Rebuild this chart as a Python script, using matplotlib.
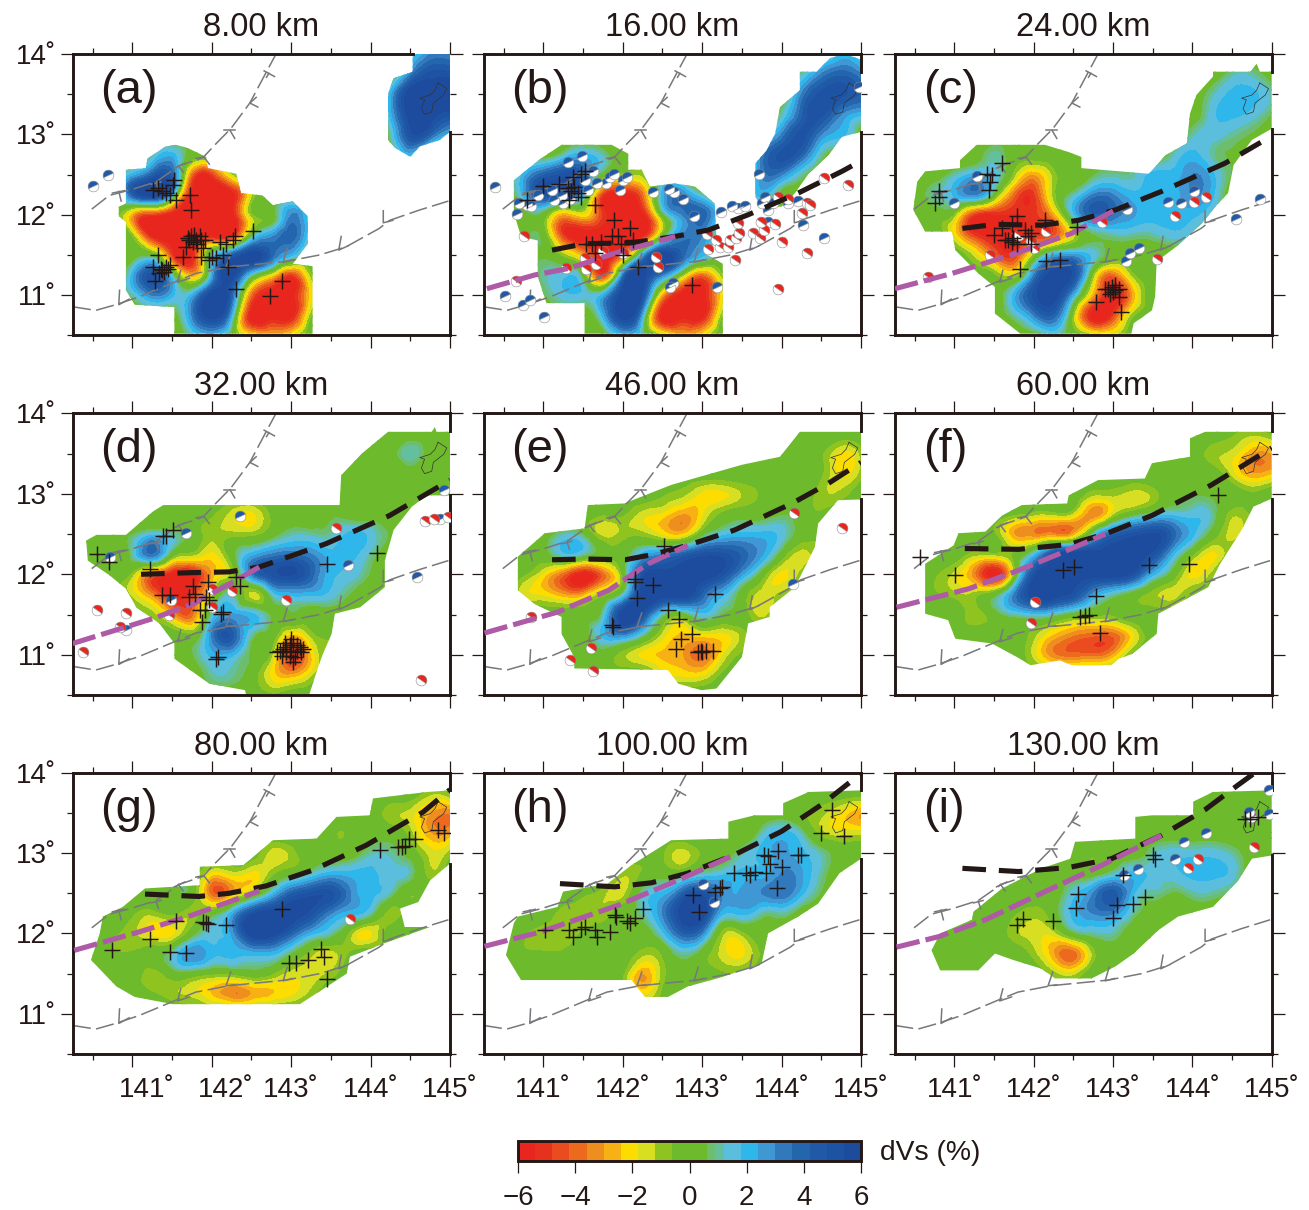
"""Nine-depth dVs tomography maps (8-130 km) with seismicity and slab contours."""
import matplotlib
matplotlib.use("Agg")
import matplotlib.pyplot as plt
import matplotlib.tri as mtri
import numpy as np
from matplotlib.cm import ScalarMappable
from matplotlib.colors import BoundaryNorm, ListedColormap
from matplotlib.markers import MarkerStyle
from matplotlib.patches import PathPatch
from matplotlib.path import Path
from matplotlib.transforms import Affine2D

plt.rcParams["font.family"] = ["Liberation Sans", "DejaVu Sans"]

W, H = 1309, 1210
INK = "#231815"

# --- colour scale ---------------------------------------------------------
LEVELS = [-6, -5.4, -4.8, -4.2, -3.6, -3, -2.4, -1.8, -1.2, -0.6, 0,
          0.6, 0.9, 1.2, 1.8, 2.4, 3, 3.6, 4.2, 4.8, 5.4, 6]
BAND_COLORS = ["#E8261E", "#E7311F", "#EA4C1F", "#ED691D", "#EE8E1E", "#F8B115",
               "#FDDD00", "#D8DE22", "#8FC31F", "#6DBA2C", "#6DBA2C", "#6CBD6E",
               "#64BF9E", "#5ABEDC", "#2FB6EA", "#3F97D3", "#3278BD", "#2466AE",
               "#2059A7", "#1E52A3", "#1D4C9E"]
CBAR_TICKS = [-6, -4, -2, 0, 2, 4, 6]

TITLES = ["8.00 km", "16.00 km", "24.00 km", "32.00 km", "46.00 km",
          "60.00 km", "80.00 km", "100.00 km", "130.00 km"]
TAGS = ["(a)", "(b)", "(c)", "(d)", "(e)", "(f)", "(g)", "(h)", "(i)"]
X_MAJOR = [141, 142, 143, 144, 145]
Y_MAJOR = [11, 12, 13, 14]
X_LABELS = ["141˚", "142˚", "143˚", "144˚", "145˚"]
Y_LABELS = ["11˚", "12˚", "13˚", "14˚"]
X_LABEL_POS_G = [141.18, 142.18, 143, 144, 145]

# dVs on a 0.25 degree node grid: rows 14.0 -> 10.5 N, columns 140.25 -> 145 E
FIELD_A = [
    [0,0,0,0,0,0,0,0,0,0,0,0,0,0,0,0,0,1,3,3],
    [0,0,0,0,0,0,0,0,0,0,0,0,0,0,0,0,0,3,5,5],
    [0,0,0,0,0,0,0,0,0,0,0,0,0,0,0,0,2,6,6,6],
    [0,0,0,0,0,0,0,0,0,0,0,0,0,0,0,0,2,6,6,5],
    [0,0,0,0,0,0,0,0,0,0,0,0,0,0,0,0,1,5,4,2],
    [0,0,0,0,1,2,0,0,0,0,0,0,0,0,0,0,0,2,0,0],
    [0,0,0,2,4,4,-4,-5,-1.5,0,0,0,0,0,0,0,0,0,0,0],
    [0,0,0,4,6,2,-6,-6,-6,-1.5,0,0,0,0,0,0,0,0,0,0],
    [0,0,0,-3,-5,-6,-6,-6,-6,-1,0,3,1,0,0,0,0,0,0,0],
    [0,0,0,-1,-6,-6,-6,-6,-6,0,2.5,4,1,0,0,0,0,0,0,0],
    [0,0,0,0,0,-5,-6,1,4,6,4,2,0,0,0,0,0,0,0,0],
    [0,0,0,2,5,1,-3,2,6,1,-2,-5,-1,0,0,0,0,0,0,0],
    [0,0,0,1,3,2,2,6,4,-4,-6,-6,-2,0,0,0,0,0,0,0],
    [0,0,0,0,0,0,3,6,2,-6,-6,-6,-1,0,0,0,0,0,0,0],
    [0,0,0,0,0,0,1,2,0,-2,-3,-2,0,0,0,0,0,0,0,0],
]
FIELD_B = [
    [0,0,0,0,0,0,0,0,0,0,0,0,0,0,0,0,0,0,2,1],
    [0,0,0,0,0,0,0,0,0,0,0,0,0,0,0,0,1,3,4,3],
    [0,0,0,0,0,0,0,0,0,0,0,0,0,0,0,0,3,5,5,4],
    [0,0,0,0,0,0,0,0,0,0,0,0,0,0,0,1,4,5,3,2],
    [0,0,0,0,0,0,0,0,0,0,0,0,0,0,1,3,5,3,2,0],
    [0,0,0,0,1,2,1,0,0,0,0,0,0,0,3,5,4,1,0,0],
    [0,0,2,4,5,4,0,-1,-1,1,0,0,0,0,3,3,1,0,0,0],
    [0,0,2,5,4,2,-5,-6,-4,2,3,1,0,0,2,0,0,0,0,0],
    [0,0,0,0,-3,-2,-5,-6,-6,0,3,4,1,0,0,0,0,0,0,0],
    [0,0,0,0,-5,-6,-6,-6,-6,-.5,3,3,0,0,0,0,0,0,0,0],
    [0,0,0,.5,-1,-3,-6,-4,2,6,4,2,0,0,0,0,0,0,0,0],
    [0,0,0,1,1.5,0,-5,3,6,3,-1,-4,-1,0,0,0,0,0,0,0],
    [0,0,0,.5,1.5,1.5,2,6,5,-3,-6,-6,-2,0,0,0,0,0,0,0],
    [0,0,0,0,0,0,2,6,2,-6,-6,-6,-1,0,0,0,0,0,0,0],
    [0,0,0,0,0,0,0,2,1,-1,-3,-2,0,0,0,0,0,0,0,0],
]
FIELD_C = [
    [0,0,0,0,0,0,0,0,0,0,0,0,0,0,0,0,0,0,0,0],
    [0,0,0,0,0,0,0,0,0,0,0,0,0,0,0,0,0,1,1,0],
    [0,0,0,0,0,0,0,0,0,0,0,0,0,0,0,0,1,2,2,1],
    [0,0,0,0,0,0,0,0,0,0,0,0,0,0,0,0,1.5,2,1.5,.5],
    [0,0,0,0,0,0,0,0,0,0,0,0,0,0,0,1,1.5,1,.5,0],
    [0,0,0,0,0,1,0,0,0,0,0,0,0,0,1,2,1,.5,0,0],
    [0,0,0,1,2,1.5,-1,-3,-1,0,.5,1,1,2,2,3,2,.5,0,0],
    [0,0,1,2,3,0,-4,-5,-1,1,3,3,2,2,2,3,2,0,0,0],
    [0,0,0,-1,-5,-5.5,-5.5,-5,-3,1.5,4,3.5,2.5,2,2,2,1,0,0,0],
    [0,0,0,-2,-5,-6,-6,-5,-4.5,-1.5,.5,1,1,1,1.5,1,0,0,0,0],
    [0,0,0,0,-1.5,-4,-5,-1,2,2.5,1.5,0,0,0,0,0,0,0,0,0],
    [0,0,0,0,0,-.5,-1.5,3,6,5,-1,-4,-1,0,0,0,0,0,0,0],
    [0,0,0,0,0,0,2,5,6,2,-3,-6,-3,0,0,0,0,0,0,0],
    [0,0,0,0,0,0,1,3,4,-1,-6,-5,-1,0,0,0,0,0,0,0],
    [0,0,0,0,0,0,0,0,1,0,-1,-1.5,0,0,0,0,0,0,0,0],
]
FIELD_D = [
    [0,0,0,0,0,0,0,0,0,0,0,0,0,0,0,0,0,0,0,0],
    [0,0,0,0,0,0,0,0,0,0,0,0,0,0,0,0,0,0,0,0],
    [0,0,0,0,0,0,0,0,0,0,0,0,0,0,0,0,0,1.2,0,0],
    [0,0,0,0,0,0,0,0,0,0,0,0,0,0,0,0,0,0,0,0],
    [0,0,0,0,0,0,0,0,0,0,0,0,0,0,0,0,0,0,0,0],
    [0,0,0,0,0,0,0,-.5,-1.5,-2,-.5,0,0,.5,0,0,0,0,0,0],
    [0,0,0,.5,1.5,1,0,-1,-1,-1,0,1,1,1,2,1.5,.5,0,0,0],
    [0,0,0,1,3.5,0,-1,-2,0,2,3,3.5,3,2,2,1,0,0,0,0],
    [0,0,0,-1,-4,-6,-6,-3,-1,3,5,5.5,4,2,1.5,.5,0,0,0,0],
    [0,0,0,-1.5,-3.5,-6,-5,-1.5,1,-1.5,1,2,2,1.5,.5,0,0,0,0,0],
    [0,0,0,0,-1,-3,-4,1,2.5,2,.5,.5,0,0,0,0,0,0,0,0],
    [0,0,0,0,0,0,-.5,3,4.5,1,0,-2.5,-1,-.5,0,0,0,0,0,0],
    [0,0,0,0,0,0,.5,2,2,.5,-1,-5,-2.5,-.5,0,0,0,0,0,0],
    [0,0,0,0,0,0,0,1,1,0,-2,-3,-1.5,0,0,0,0,0,0,0],
    [0,0,0,0,0,0,0,0,0,0,-.5,0,0,0,0,0,0,0,0,0],
]
FIELD_E = [
    [0,0,0,0,0,0,0,0,0,0,0,0,0,0,0,0,0,0,0,0],
    [0,0,0,0,0,0,0,0,0,0,0,0,0,0,0,0,0,0,0,0],
    [0,0,0,0,0,0,0,0,0,0,0,0,0,0,0,0,-.5,-.5,-2,-1],
    [0,0,0,0,0,0,0,0,0,0,0,0,0,0,-.5,0,0,-.5,-2,-1],
    [0,0,0,0,0,0,0,0,0,-.5,-1,-2,-2,-1.2,-.5,0,0,-1,-1,0],
    [0,0,0,0,0,0,-.5,-.5,-1.5,-2,-3,-2,-.5,0,0,.5,0,-.5,0,0],
    [0,0,0,0,1,.5,-1.5,-1,-1,-2,-2.5,0,1.5,2,2,1.5,0,-.5,0,0],
    [0,0,0,0,1.5,1,0,0,2,3,4,5,5,4,2.5,0,-1.5,-.5,0,0],
    [0,0,-.5,-2,-4,-6,-4,-.5,5,6,6,6,5,2.5,0,-2,-1,-.5,0,0],
    [0,0,-1.5,-2,-3,-3,-1,1,6,6,6,4,2,0,-1.5,-1,-.5,0,0,0],
    [0,0,0,0,0,0,1,6,5,1,0,1.5,.5,0,-1.5,0,0,0,0,0],
    [0,0,0,0,0,0,2,3,1,-1.5,-2.5,-2,-2,-1,0,0,0,0,0,0],
    [0,0,0,0,0,0,0,-1,-2,-2.5,-3,-4,-2,-.5,0,0,0,0,0,0],
    [0,0,0,0,0,0,0,0,0,-1.5,-2,-2,-.5,0,0,0,0,0,0,0],
    [0,0,0,0,0,0,0,0,0,0,0,0,0,0,0,0,0,0,0,0],
]
FIELD_F = [
    [0,0,0,0,0,0,0,0,0,0,0,0,0,0,0,0,0,0,0,0],
    [0,0,0,0,0,0,0,0,0,0,0,0,0,0,0,0,0,-.5,-1,-.5],
    [0,0,0,0,0,0,0,0,0,0,0,0,0,0,0,0,-1,-1.5,-3,-3],
    [0,0,0,0,0,0,0,0,0,0,0,0,0,0,-.5,0,0,-1.5,-3,-2.5],
    [0,0,0,0,0,0,0,0,0,0,-1,-1,-1.5,-1,0,.5,.5,0,-.5,0],
    [0,0,0,0,0,0,-.5,-1,-1,-1.5,-3.5,-1.5,0,1,1.5,1.5,1,-1,-.5,0],
    [0,0,0,0,0,-.5,-3,-3.5,-3.5,-3,1,4,5,5.5,4,2,0,-1.5,-.5,0],
    [0,0,0,0,-1,-1,-.5,1.5,5,6,6,6,6,5,2,-.5,-2,-.5,0,0],
    [0,0,-.5,-1.5,-3.5,-6,-1,5,6,6,6,6,5,2,0,-2,-1,0,0,0],
    [0,0,-.5,-1,-1,0,3,6,6,5,2.5,1,0,-1,-1.5,-.5,0,0,0,0],
    [0,0,0,0,-1,0,1,1.5,1,0,-.5,-.5,0,0,0,0,0,0,0,0],
    [0,0,0,0,0,0,0,-1,-2.5,-3.5,-4,-4,-2,0,0,0,0,0,0,0],
    [0,0,0,0,0,0,0,-1.5,-3.5,-4,-4,-3,-.5,0,0,0,0,0,0,0],
    [0,0,0,0,0,0,0,0,0,0,0,0,0,0,0,0,0,0,0,0],
    [0,0,0,0,0,0,0,0,0,0,0,0,0,0,0,0,0,0,0,0],
]
FIELD_G = [
    [0,0,0,0,0,0,0,0,0,0,0,0,0,0,0,0,0,0,0,0],
    [0,0,0,0,0,0,0,0,0,0,0,0,0,0,0,0,0,0,-1,-.5],
    [0,0,0,0,0,0,0,0,0,0,0,0,0,0,0,0,-1,-1.5,-3,-3.5],
    [0,0,0,0,0,0,0,0,0,0,0,0,0,-.5,-.5,0,0,-1,-3,-3],
    [0,0,0,0,0,0,0,0,0,0,-1.5,-1,0,0,0,1,1,0,-1.5,-1],
    [0,0,0,0,0,0,0,-2,-1.5,-2,-1,0,1,2,2,2,1.5,1,-1,0],
    [0,0,0,0,0,0,0,-4,-3,-1,1.5,4,5,5,3,2,1,-.5,0,0],
    [0,0,0,-.5,-1,-.5,-1,0,2,5,6,6,5,3,2,1,-1,0,0,0],
    [0,0,-.5,-1,-2,-2,0,1.5,2.5,6,6,4,2,1,-1,-2,0,0,0,0],
    [0,0,-.5,-.5,0,1,3,2,2,2,2,.5,-1,-1.5,-.5,0,0,0,0,0],
    [0,0,0,0,-1,0,0,-.5,-.5,0,-.5,-1.5,-1.5,-1,0,0,0,0,0,0],
    [0,0,0,0,-.5,-1,-1.5,-2.5,-3.5,-3,-2.5,-2,-1,0,0,0,0,0,0,0],
    [0,0,0,0,0,0,0,0,0,0,0,0,0,0,0,0,0,0,0,0],
    [0,0,0,0,0,0,0,0,0,0,0,0,0,0,0,0,0,0,0,0],
    [0,0,0,0,0,0,0,0,0,0,0,0,0,0,0,0,0,0,0,0],
]
FIELD_H = [
    [0,0,0,0,0,0,0,0,0,0,0,0,0,0,0,0,0,0,0,0],
    [0,0,0,0,0,0,0,0,0,0,0,0,0,0,0,0,0,0,0,0],
    [0,0,0,0,0,0,0,0,0,0,0,0,0,0,0,0,-.5,-1,-2,-3],
    [0,0,0,0,0,0,0,0,0,0,0,0,0,-.5,1,2,1,-1,-1.5,-1.5],
    [0,0,0,0,0,0,0,0,0,-.5,-1.5,-.5,0,1,2,2.5,2,1,0,0],
    [0,0,0,0,0,0,0,-1,-.5,0,0,1,1.5,2,2,3,2.5,1,0,0],
    [0,0,0,0,0,-.5,-1,-1.5,1,2,4,5,3,2.5,3,3.5,2,.5,0,0],
    [0,0,0,0,-1,-1,-1,0,1,3,6,6,2,2,1,1,0,0,0,0],
    [0,0,-.5,-1,-1,-.5,0,0,0,1.5,4,3,-1,-1,0,0,0,0,0,0],
    [0,0,-.5,-.5,-.5,0,.5,0,-1,-.5,1,0,-1.5,-2,-.5,0,0,0,0,0],
    [0,0,0,0,0,0,0,-.5,-3,-1,0,0,-.5,-.5,0,0,0,0,0,0],
    [0,0,0,0,0,0,0,-.5,-2,-.5,0,0,0,0,0,0,0,0,0,0],
    [0,0,0,0,0,0,0,0,0,0,0,0,0,0,0,0,0,0,0,0],
    [0,0,0,0,0,0,0,0,0,0,0,0,0,0,0,0,0,0,0,0],
    [0,0,0,0,0,0,0,0,0,0,0,0,0,0,0,0,0,0,0,0],
]
FIELD_I = [
    [0,0,0,0,0,0,0,0,0,0,0,0,0,0,0,0,0,0,0,0],
    [0,0,0,0,0,0,0,0,0,0,0,0,0,0,0,0,0,0,0,0],
    [0,0,0,0,0,0,0,0,0,0,0,0,0,0,0,0,-.5,0,0,0],
    [0,0,0,0,0,0,0,0,0,0,0,0,-.3,0,0,0,0,0,0,0],
    [0,0,0,0,0,0,0,0,0,0,-.5,0,0,1,1.5,1.5,1.5,1,0,0],
    [0,0,0,0,0,0,0,0,0,0,0,1,2,1.5,1.5,2,2,1.5,0,0],
    [0,0,0,0,0,0,0,0,0,1.5,3,4.5,2,1,.5,1,1,.5,0,0],
    [0,0,0,0,0,0,-.5,-1,0,2,3,3,1,0,-.5,0,0,0,0,0],
    [0,0,0,-.2,0,0,-1,-1.5,-1.5,.3,1,1,0,0,0,0,0,0,0,0],
    [0,0,-.5,-.5,-.3,0,0,-1,-3,-4,-1,0,0,0,0,0,0,0,0,0],
    [0,0,0,0,0,0,0,0,-1,-1.5,0,0,0,0,0,0,0,0,0,0],
    [0,0,0,0,0,0,0,0,0,0,0,0,0,0,0,0,0,0,0,0],
    [0,0,0,0,0,0,0,0,0,0,0,0,0,0,0,0,0,0,0,0],
    [0,0,0,0,0,0,0,0,0,0,0,0,0,0,0,0,0,0,0,0],
    [0,0,0,0,0,0,0,0,0,0,0,0,0,0,0,0,0,0,0,0],
]

# Edge of the resolved area (lon, lat), one or two regions per panel
OUTLINE_A = [
    [(144.53,14),(145,14),(145,13.03),(144.87,12.93),(144.62,12.85),(144.50,12.72),(144.31,12.83),
     (144.22,12.93),(144.22,13.51),(144.29,13.70),(144.53,13.78)],
    [(141.42,12.85),(141.55,12.87),(141.70,12.83),(141.93,12.72),(141.95,12.58),(142.31,12.51),
     (142.37,12.27),(142.64,12.24),(142.77,12.12),(143.02,12.17),(143.21,11.98),(143.21,11.64),
     (143.02,11.39),(143.27,11.36),(143.27,10.52),(141.53,10.52),(141.53,10.85),(141.03,10.88),
     (140.92,11.06),(140.92,11.91),(140.83,11.98),(140.83,12.10),(140.92,12.14),(140.92,12.56),
     (141.17,12.58),(141.19,12.70)],
]
OUTLINE_B = [
    [(144.61,13.95),(144.80,14),(145,13.93),(145,13.03),(144.76,12.97),(144.59,12.74),(144.34,12.51),
     (144.17,12.27),(144,12.10),(143.75,12.10),(143.67,12.22),(143.67,12.64),(143.81,12.80),
     (143.92,13.01),(143.98,13.34),(144.23,13.55),(144.23,13.78),(144.44,13.78)],
    [(141.23,12.87),(141.86,12.87),(142.07,12.76),(142.07,12.56),(142.24,12.56),(142.34,12.35),
     (142.66,12.39),(142.91,12.35),(143.16,12.14),(143.18,11.68),(143.03,11.52),(143.26,11.39),
     (143.26,10.52),(141.52,10.52),(141.52,10.90),(141.04,10.90),(140.93,11.23),(140.93,11.68),
     (140.72,11.73),(140.63,12.02),(140.63,12.43),(140.97,12.70)],
]
OUTLINE_C = [
    [(144.26,13.78),(144.73,13.78),(144.81,13.88),(144.85,13.78),(145,13.78),(145,13.07),(144.75,12.93),
     (144.52,12.62),(144.45,12.27),(144.29,12.10),(144.12,11.89),(143.82,11.62),(143.55,11.42),
     (143.53,10.98),(143.49,10.81),(143.26,10.65),(143.23,10.52),(141.83,10.52),(141.51,10.77),
     (141.51,11.10),(141.30,11.27),(141.01,11.56),(140.97,11.79),(140.63,11.79),(140.48,12.06),
     (140.53,12.41),(140.63,12.54),(141.07,12.58),(141.07,12.68),(141.28,12.87),(142.14,12.87),
     (142.44,12.78),(142.60,12.72),(142.60,12.58),(143.45,12.51),(143.66,12.74),(143.93,12.89),
     (143.97,13.26),(144.05,13.49),(144.26,13.72)],
]
OUTLINE_D = [
    [(144.22,13.77),(144.77,13.77),(144.81,13.83),(144.83,13.77),(145,13.77),(145,12.98),(144.71,12.98),
     (144.52,12.84),(144.29,12.55),(144.18,12.17),(144.18,11.84),(143.87,11.59),(143.55,11.51),
     (143.51,11.26),(143.40,11.01),(143.34,10.85),(143.23,10.51),(142.43,10.51),(142.42,10.56),
     (141.97,10.64),(141.53,10.95),(141.53,11.14),(141.34,11.39),(141.05,11.59),(140.92,11.82),
     (140.71,11.99),(140.44,12.17),(140.42,12.42),(140.55,12.49),(140.92,12.49),(141.26,12.78),
     (141.39,12.86),(143.61,12.86),(143.63,13.23),(143.89,13.50)],
]
OUTLINE_E = [
    [(144.23,13.77),(145,13.77),(145,12.93),(144.71,12.92),(144.46,12.63),(144.42,12.34),(144.17,11.84),
     (143.85,11.59),(143.85,11.47),(143.58,11.39),(143.50,10.97),(143.18,10.58),(142.99,10.56),
     (142.70,10.64),(142.57,10.81),(141.39,10.83),(141.39,10.97),(141.23,11.26),(141.23,11.47),
     (140.89,11.63),(140.68,11.80),(140.68,12.22),(141.02,12.51),(141.52,12.57),(141.56,12.86),
     (142.02,12.88),(142.61,13.11),(143.50,13.36),(143.98,13.46)],
]
OUTLINE_F = [
    [(143.97,13.69),(144.16,13.77),(145,13.77),(145,12.94),(144.77,12.84),(144.62,12.55),(144.35,12.13),
     (144.20,11.84),(143.82,11.64),(143.57,11.51),(143.55,11.26),(143.24,11.01),(143.07,10.95),
     (142.98,10.87),(142.48,10.87),(142.33,10.93),(141.96,10.87),(141.79,10.97),(141.47,11.14),
     (141.01,11.20),(140.92,11.43),(140.63,11.51),(140.63,12.13),(140.99,12.36),(141.05,12.51),
     (141.39,12.53),(141.60,12.73),(141.85,12.86),(142.42,12.88),(142.44,12.98),(142.81,13.17),
     (143.40,13.19),(143.49,13.38),(143.97,13.46)],
]
OUTLINE_G = [
    [(144.03,13.68),(144.71,13.76),(145,13.78),(145,12.87),(144.75,12.66),(144.60,12.39),(144.37,12.31),
     (144.43,12.08),(144.75,12.08),(144.18,11.88),(143.74,11.71),(143.70,11.50),(143.11,11.12),
     (141.51,11.12),(141.03,11.21),(140.80,11.34),(140.48,11.67),(140.59,12.0),(140.63,12.21),
     (140.88,12.33),(141.16,12.56),(141.85,12.60),(141.85,12.83),(142.40,12.85),(142.77,13.16),
     (143.32,13.18),(143.57,13.45),(143.99,13.47)],
]
OUTLINE_H = [
    [(144.02,13.62),(144.34,13.76),(145,13.78),(145,12.93),(144.73,12.75),(144.46,12.37),(144.21,12.21),
     (143.83,12.0),(143.75,11.63),(143.26,11.46),(142.82,11.34),(142.57,11.21),(142.28,11.21),
     (142.11,11.42),(140.72,11.42),(140.53,11.73),(140.63,12.13),(140.68,12.21),(141.18,12.33),
     (141.25,12.52),(141.81,12.62),(142.11,12.85),(142.61,13.16),(143.33,13.18),(143.33,13.39),
     (143.66,13.47),(144.02,13.47)],
]
OUTLINE_I = [
    [(144.01,13.64),(144.26,13.76),(145,13.78),(145,12.97),(144.75,12.93),(144.58,12.66),(144.26,12.33),
     (143.82,12.21),(143.57,12.04),(143.26,11.75),(143.03,11.59),(142.73,11.44),(142.27,11.44),
     (142.10,11.56),(141.74,11.67),(141.51,11.75),(141.30,11.54),(140.82,11.54),(140.71,11.79),
     (140.82,12.0),(141.22,12.17),(141.24,12.27),(141.60,12.56),(142.10,12.81),(142.46,12.93),
     (142.52,13.14),(143.28,13.18),(143.28,13.45),(143.49,13.47),(144.01,13.47)],
]

# Earthquake hypocentres
CROSS_A = [(141.53,12.43),(141.51,12.37),(141.42,12.27),(141.47,12.24),(141.26,12.31),(141.32,12.33),
           (141.38,12.29),(141.55,12.18),(141.73,12.24),(141.74,12.06),(142.52,11.80),(142.29,11.73),
           (142.27,11.68),(142.10,11.66),(142.18,11.64),(141.70,11.71),(141.74,11.73),(141.78,11.75),
           (141.85,11.73),(141.91,11.68),(141.76,11.66),(141.82,11.64),(141.68,11.60),(141.89,11.58),
           (141.87,11.48),(141.64,11.48),(142.01,11.48),(142.06,11.46),(142.14,11.50),(142.20,11.35),
           (141.97,11.44),(141.32,11.50),(141.42,11.35),(141.38,11.31),(141.34,11.27),(141.26,11.35),
           (141.28,11.17),(141.47,11.37),(141.40,11.29),(142.30,11.08),(142.74,10.99),(142.89,11.17),
           (141.80,11.68),(141.72,11.68),(141.87,11.68),(141.36,11.33),(141.45,11.33)]
CROSS_B = [(141.00,12.36),(141.20,12.38),(141.37,12.47),(141.48,12.51),(141.39,12.35),(141.35,12.29),
           (141.48,12.22),(141.44,12.27),(141.31,12.33),(141.65,12.12),(141.89,11.93),(142.09,11.83),
           (141.86,11.73),(141.94,11.73),(141.73,11.66),(141.61,11.64),(141.54,11.63),(141.65,11.52),
           (142.0,11.50),(142.13,11.68),(141.98,11.64),(142.19,11.35),(142.87,11.12),(140.79,12.18),
           (141.33,12.18),(141.52,12.54)]
CROSS_C = [(141.60,12.64),(141.41,12.51),(141.47,12.49),(141.45,12.41),(141.43,12.31),(140.80,12.29),
           (140.76,12.15),(140.80,12.22),(141.79,11.98),(141.72,11.89),(141.60,11.83),(141.50,11.75),
           (141.64,11.68),(141.72,11.66),(141.79,11.64),(141.89,11.81),(141.97,11.77),(142.14,11.93),
           (142.54,11.85),(141.83,11.33),(142.16,11.42),(142.33,11.44),(141.96,11.64),(142.98,11.10),
           (143.03,11.06),(142.94,11.08),(143.07,11.08),(143.03,11.12),(143.0,11.04),(143.07,10.98),
           (142.79,10.92),(143.10,10.79),(142.96,11.02),(142.90,11.08),(141.68,11.68),(141.74,11.71),
           (141.93,11.73)]
CROSS_D = [(140.56,12.25),(140.71,12.15),(141.22,12.07),(141.43,12.47),(141.39,12.47),(141.51,12.55),
           (143.45,12.13),(144.08,12.26),(142.35,11.86),(142.31,11.97),(141.95,11.90),(141.76,11.86),
           (141.79,11.76),(141.72,11.72),(141.37,11.74),(141.47,11.74),(141.93,11.72),(141.97,11.68),
           (141.85,11.55),(141.91,11.55),(141.88,11.41),(142.14,11.53),(142.12,11.51),(142.08,10.97),
           (142.06,10.95),(142.82,11.03),(142.86,11.05),(142.90,11.07),(142.94,11.10),(142.98,11.12),
           (143.02,11.14),(143.07,11.12),(143.11,11.10),(143.15,11.07),(142.88,10.99),(142.94,11.03),
           (143.0,11.05),(143.07,11.05),(143.13,11.03),(142.98,10.99),(143.05,10.97),(142.92,11.14),
           (143.0,11.20),(143.02,10.91)]
CROSS_E = [(142.52,12.35),(142.16,11.90),(142.38,11.87),(142.18,11.70),(143.16,11.76),(141.87,11.37),
           (142.57,11.55),(142.71,11.45),(142.87,11.26),(142.74,11.20),(142.67,11.07),(142.99,11.05),
           (143.05,11.05),(143.14,11.05),(142.95,11.04),(143.0,11.03),(142.16,11.94),(141.88,11.35)]
CROSS_F = [(140.56,12.22),(141.01,11.99),(142.37,12.05),(142.51,12.09),(143.45,12.11),(143.96,12.13),
           (142.79,11.73),(144.32,12.99),(142.84,11.27),(142.58,11.47),(142.65,11.48),(142.70,11.50)]
CROSS_G = [(140.74,11.80),(141.22,11.93),(141.55,12.15),(141.48,11.77),(141.68,11.76),(141.89,12.14),
           (141.93,12.13),(141.95,12.12),(142.18,12.10),(142.89,12.31),(142.97,11.63),(143.06,11.63),
           (143.21,11.67),(143.38,11.81),(143.41,11.71),(143.45,11.43),(144.12,13.04),(144.35,13.07),
           (144.39,13.07),(144.43,13.09),(144.48,13.18),(144.56,13.17),(144.85,13.29),(144.92,13.25)]
CROSS_H = [(141.02,12.04),(141.33,12.04),(141.38,11.96),(141.48,12.06),(141.52,12.08),(141.65,12.04),
           (141.68,11.96),(141.84,12.02),(141.90,12.23),(141.92,12.21),(142.05,12.15),(142.09,12.13),
           (142.15,12.19),(142.26,12.30),(142.89,12.48),(142.96,12.27),(143.16,12.52),(143.22,12.56),
           (143.25,12.58),(143.40,12.75),(143.55,12.75),(143.60,12.73),(143.66,12.77),(143.81,12.75),
           (143.78,12.98),(143.83,12.96),(143.85,12.87),(143.96,13.03),(144.0,12.83),(143.94,12.57),
           (144.21,12.98),(144.25,12.98),(144.63,13.54),(144.50,13.25),(144.78,13.21)]
CROSS_I = [(141.87,12.18),(141.79,12.10),(142.24,12.15),(142.56,12.49),(142.53,12.32),(143.05,12.35),
           (143.0,12.19),(143.25,12.37),(143.40,12.45),(143.50,12.97),(143.53,12.93),(144.83,13.45),
           (144.73,13.43),(144.66,13.42),(143.12,12.73)]

# Focal mechanisms, by colour of the compressional quadrant
BLUE_A = [(140.51,12.36),(140.70,12.49)]
RED_A = []
BLUE_B = [(141.49,12.73),(141.31,12.66),(140.39,12.35),(140.93,12.24),(140.70,12.15),(140.79,12.12),
          (140.84,12.11),(140.67,12.01),(141.11,12.31),(141.24,12.24),(141.14,12.18),(141.25,12.15),
          (141.34,12.19),(141.63,12.54),(141.52,12.43),(141.56,12.31),(141.68,12.39),(141.79,12.40),
          (141.84,12.47),(141.89,12.51),(142.0,12.43),(142.05,12.47),(141.97,12.31),(142.38,12.28),
          (142.58,12.32),(142.64,12.28),(142.76,12.19),(142.90,11.98),(143.24,12.04),(143.38,12.11),
          (143.45,12.08),(143.54,12.11),(143.72,12.51),(143.79,12.22),(143.75,12.14),(143.89,12.14),
          (143.83,12.06),(144.08,12.15),(144.21,12.17),(144.27,11.87),(143.83,11.91),(144.54,11.71),
          (141.01,10.73),(140.52,10.99),(140.74,10.88),(140.83,10.94),(142.63,11.15),(142.59,11.10),
          (143.19,11.10),(144.97,13.59)]
RED_B = [(140.76,11.74),(141.28,11.34),(141.52,11.46),(141.54,11.33),(141.66,11.39),(141.75,11.55),
         (142.0,11.52),(140.66,11.17),(142.42,11.47),(142.45,11.35),(143.06,11.76),(143.07,11.57),
         (143.18,11.68),(143.22,11.60),(143.32,11.60),(143.35,11.68),(143.43,11.71),(143.47,11.77),
         (143.45,11.90),(143.64,11.77),(143.73,11.71),(143.78,11.81),(143.74,11.91),(143.92,11.88),
         (144.0,11.66),(144.26,12.02),(144.32,11.52),(143.41,11.44),(143.95,11.07),(143.95,12.22),
         (144.08,12.20),(144.32,12.14),(144.36,12.12),(144.53,12.46),(144.84,12.37)]
BLUE_C = [(141.29,12.48),(141.0,12.15),(143.17,12.07),(143.69,12.16),(143.86,12.14),(144.02,12.29),
          (144.55,11.95),(144.85,12.20),(143.21,11.53),(143.33,11.58),(143.16,11.42)]
RED_C = [(141.81,11.75),(141.96,11.67),(142.15,11.80),(142.0,11.59),(141.45,11.50),(140.67,11.22),
         (142.86,11.91),(143.78,11.98),(144.02,12.16),(144.17,12.22),(143.55,11.45)]
BLUE_D = [(141.68,12.51),(140.72,12.22),(142.36,12.73),(143.71,12.12),(141.49,11.68),(144.58,11.96),
          (140.92,11.31),(144.92,13.05),(144.87,12.69)]
RED_D = [(143.56,12.58),(142.93,11.68),(142.0,11.82),(142.25,11.79),(142.0,11.59),(141.46,11.50),
         (140.84,11.34),(140.55,11.55),(140.92,11.52),(140.38,11.03),(144.68,12.66),(144.80,12.69),
         (144.98,12.71),(144.64,10.69)]
BLUE_E = [(144.15,11.88)]
RED_E = [(144.16,12.76),(144.76,12.57),(140.85,11.47),(141.60,11.09),(141.34,10.93),(141.63,10.80)]
BLUE_F = []
RED_F = [(142.01,11.66),(141.97,11.39)]
BLUE_G = []
RED_G = [(143.74,12.18)]
BLUE_H = [(143.01,12.61),(143.15,12.39)]
RED_H = []
BLUE_I = [(143.14,12.73),(143.31,12.80),(143.78,12.93),(143.90,13.14),(144.17,13.25),(144.72,13.51),
          (144.74,13.45),(144.96,13.49),(144.97,13.79)]
RED_I = [(143.94,12.82),(144.07,12.93),(144.78,13.07)]

# Thick dashed slab contours
BLACK_B = [(141.11,11.56),(141.52,11.64),(142.11,11.65),(142.66,11.73),(143.08,11.81),(143.58,12.0),
           (144.21,12.27),(144.76,12.54),(145,12.67)]
PURPLE_B = [(140.29,11.08),(140.89,11.25),(141.31,11.33),(141.90,11.52),(142.66,11.73)]
BLACK_C = [(141.10,11.83),(141.51,11.88),(142.10,11.87),(142.56,11.93),(143.03,12.06),(143.61,12.29),
           (144.41,12.64),(145,12.98)]
PURPLE_C = [(140.25,11.08),(140.97,11.27),(141.72,11.5),(142.48,11.77),(143.03,12.06)]
BLACK_D = [(141.11,12.0),(141.76,12.02),(142.22,12.03),(142.60,12.09),(143.44,12.38),(144.24,12.73),(145,13.17)]
PURPLE_D = [(140.25,11.14),(141.26,11.45),(141.76,11.63),(142.26,11.90),(142.60,12.09)]
BLACK_E = [(141.11,12.18),(141.52,12.19),(142.03,12.18),(142.40,12.25),(142.82,12.36),(143.41,12.55),
           (144.13,12.88),(144.59,13.13),(145,13.39)]
PURPLE_E = [(140.26,11.27),(141.18,11.53),(141.82,11.80),(142.32,12.13),(142.82,12.36)]
BLACK_F = [(141.13,12.32),(141.81,12.31),(142.44,12.37),(142.90,12.50),(143.49,12.73),(144.24,13.11),(145,13.57)]
PURPLE_F = [(140.27,11.59),(141.18,11.82),(141.81,12.05),(142.31,12.25),(142.90,12.50)]
BLACK_G = [(141.16,12.49),(141.84,12.46),(142.22,12.50),(142.68,12.59),(143.28,12.79),(143.95,13.10),
           (144.66,13.51),(145,13.79)]
PURPLE_G = [(140.27,11.79),(141.09,12.02),(141.76,12.23),(142.60,12.53)]
BLACK_H = [(141.21,12.62),(141.90,12.58),(142.36,12.63),(142.82,12.75),(143.41,12.98),(144.0,13.27),
           (144.50,13.60),(145,13.99)]
PURPLE_H = [(140.26,11.84),(140.97,12.02),(141.94,12.35),(142.74,12.68),(143.41,12.98)]
BLACK_I = [(141.10,12.81),(141.81,12.77),(142.44,12.82),(142.98,12.93),(143.61,13.22),(144.16,13.54),
           (144.58,13.85),(144.79,14)]
PURPLE_I = [(140.27,11.83),(140.80,11.96),(141.39,12.17),(142.14,12.52),(142.86,12.85),(143.61,13.22)]

# Map base, the same in all panels
BACKARC = [(140.49,12.07),(140.71,12.24),(140.98,12.31),(141.30,12.41),(141.59,12.61),(141.89,12.71),
           (142.06,12.89),(142.24,13.07),(142.48,13.39),(142.69,13.78),(142.81,14)]
TRENCH = [(140.25,10.855),(140.54,10.81),(140.79,10.88),(141.09,10.98),(141.55,11.17),(141.80,11.27),
          (142.22,11.35),(142.94,11.42),(143.36,11.50),(143.69,11.60),(144.11,11.83),(144.24,11.93),
          (144.62,12.06),(144.98,12.17)]
TRENCH_BARBS = [[(140.84,11.06),(140.83,10.88),(140.96,10.95)], [(141.61,11.31),(141.57,11.16),(141.72,11.21)],
                [(142.24,11.52),(142.18,11.35),(142.29,11.36)], [(142.95,11.58),(142.90,11.41),(143.02,11.44)],
                [(143.63,11.73),(143.60,11.56),(143.71,11.61)], [(144.16,12.05),(144.16,11.90),(144.28,11.93)]]
BACKARC_BARBS = [[(140.75,12.27),(140.90,12.30)], [(140.83,12.29),(140.86,12.17)],
                 [(141.24,12.38),(141.36,12.41)], [(141.30,12.40),(141.33,12.31)],
                 [(141.53,12.58),(141.66,12.64)], [(141.58,12.61),(141.64,12.53)],
                 [(141.80,12.70),(141.90,12.72),(141.97,12.63)],
                 [(142.16,13.05),(142.29,13.05)], [(142.23,13.05),(142.29,12.95)],
                 [(142.56,13.46),(142.48,13.39),(142.58,13.34)],
                 [(142.66,13.79),(142.79,13.72)], [(142.72,13.76),(142.69,13.71)]]
GUAM = [(144.85,13.64),(144.96,13.57),(144.92,13.49),(144.79,13.39),(144.77,13.28),(144.68,13.25),
        (144.64,13.32),(144.68,13.43),(144.62,13.45),(144.75,13.49),(144.81,13.55),(144.85,13.64)]

FIELDS = [FIELD_A, FIELD_B, FIELD_C, FIELD_D, FIELD_E, FIELD_F, FIELD_G, FIELD_H, FIELD_I]
OUTLINES = [OUTLINE_A, OUTLINE_B, OUTLINE_C, OUTLINE_D, OUTLINE_E, OUTLINE_F, OUTLINE_G, OUTLINE_H, OUTLINE_I]
CROSSES = [CROSS_A, CROSS_B, CROSS_C, CROSS_D, CROSS_E, CROSS_F, CROSS_G, CROSS_H, CROSS_I]
BLUES = [BLUE_A, BLUE_B, BLUE_C, BLUE_D, BLUE_E, BLUE_F, BLUE_G, BLUE_H, BLUE_I]
REDS = [RED_A, RED_B, RED_C, RED_D, RED_E, RED_F, RED_G, RED_H, RED_I]
BLACKS = [[], BLACK_B, BLACK_C, BLACK_D, BLACK_E, BLACK_F, BLACK_G, BLACK_H, BLACK_I]
PURPLES = [[], PURPLE_B, PURPLE_C, PURPLE_D, PURPLE_E, PURPLE_F, PURPLE_G, PURPLE_H, PURPLE_I]
# latitude where the right frame stops, covered by the model above it
RIGHT_GAP = [13.03, 13.03, 13.07, 12.98, 12.94, 12.94, 12.87, 12.93, 12.97]

COL_X = [(72.7, 450.0), (483.7, 861.0), (895.0, 1271.7)]
ROW_Y = [(54.0, 335.3), (413.3, 695.0), (772.7, 1054.0)]

LON = np.arange(140.25, 145.01, 0.25)
LAT = np.arange(14.0, 10.49, -0.25)
cmap = ListedColormap(BAND_COLORS)
norm = BoundaryNorm(LEVELS, cmap.N)


def _xy(pts):
    return [p[0] for p in pts], [p[1] for p in pts]


def _balls(ax, pts, color, angle):
    if not pts:
        return
    x, y = _xy(pts)
    mk = MarkerStyle("o", fillstyle="top", transform=Affine2D().rotate_deg(angle))
    ax.plot(x, y, ls="", marker=mk, ms=7.8, mfc=color, markerfacecoloralt="white",
            mec="#8a8a8a", mew=0.4, zorder=4)


def draw_panel(ax, i):
    lon2, lat2 = np.meshgrid(LON, LAT)
    tri = mtri.Triangulation(lon2.ravel(), lat2.ravel())
    z = np.array(FIELDS[i], dtype=float).ravel()
    tri_f, z_f = mtri.UniformTriRefiner(tri).refine_field(z, subdiv=3)
    cf = ax.tricontourf(tri_f, np.clip(z_f, -5.99, 5.99), levels=LEVELS, cmap=cmap, norm=norm,
                        antialiased=False, zorder=1)
    paths = [Path(np.vstack([p, p[0]]), closed=True) for p in map(np.array, OUTLINES[i])]
    clip = PathPatch(Path.make_compound_path(*paths), transform=ax.transData, fc="none", ec="none")
    ax.add_patch(clip)
    cf.set_clip_path(clip)

    gray = dict(color="#77787b", lw=1.1, zorder=2)
    for line in (BACKARC, TRENCH):
        ax.plot(*_xy(line), ls=(0, (12, 3.5)), **gray)
    for barb in TRENCH_BARBS + BACKARC_BARBS:
        ax.plot(*_xy(barb), **gray)
    ax.plot(*_xy(GUAM), color="#333333", lw=0.5, zorder=2)

    _balls(ax, BLUES[i], "#1F5AA8", 25)
    _balls(ax, REDS[i], "#E8261E", -35)

    if BLACKS[i]:
        ax.plot(*_xy(BLACKS[i]), color=INK, lw=3.7, ls=(0, (4.6, 2.5)), zorder=5,
                dash_capstyle="butt")
        ax.plot(*_xy(PURPLES[i]), color="#AE5AA6", lw=3.7, ls=(0, (4.6, 1.2)), zorder=5,
                dash_capstyle="butt")
    ax.plot(*_xy(CROSSES[i]), ls="", marker="+", ms=11, mew=1.05, color=INK, zorder=6)

    ax.set_xlim(140.25, 145)
    ax.set_ylim(10.5, 14)
    ax.set_xticks(X_MAJOR)
    ax.set_yticks(Y_MAJOR)
    ax.set_xticks(np.arange(140.5, 145, 1), minor=True)
    ax.set_yticks(np.arange(10.5, 14, 1), minor=True)
    ax.tick_params(which="major", length=9, width=0.9, top=True, right=True, color=INK)
    ax.tick_params(which="minor", length=4, width=0.9, top=True, right=True, color=INK)
    ax.set_xticklabels([])
    ax.set_yticklabels(Y_LABELS if i % 3 == 0 else [], fontsize=20, color=INK)
    ax.tick_params(axis="y", which="major", pad=3)
    for s in ax.spines.values():
        s.set_linewidth(2.1)
        s.set_color(INK)
    ax.spines["right"].set_bounds(10.5, RIGHT_GAP[i])
    if i == 0:
        ax.spines["top"].set_bounds(140.25, 144.53)
    else:
        ax.plot([145, 145], [13.78, 14], color=INK, lw=2.1, clip_on=False, zorder=3,
                solid_capstyle="projecting")

    ax.set_title(TITLES[i], fontsize=23.5, color=INK, pad=13)
    ax.text(140.6, 13.39, TAGS[i], fontsize=34, color=INK, ha="left", va="baseline", zorder=7)
    if i >= 6:
        pos = X_LABEL_POS_G if i == 6 else X_MAJOR
        for lon, lab in zip(pos, X_LABELS):
            ax.text(lon, -0.128, lab, transform=ax.get_xaxis_transform(), ha="center", va="center",
                    fontsize=20, color=INK)


def main():
    fig = plt.figure(figsize=(W / 100, H / 100), dpi=100)
    for i in range(9):
        x0, x1 = COL_X[i % 3]
        y0, y1 = ROW_Y[i // 3]
        ax = fig.add_axes([x0 / W, 1 - y1 / H, (x1 - x0) / W, (y1 - y0) / H])
        draw_panel(ax, i)

    cax = fig.add_axes([518.0 / W, 1 - 1160.5 / H, 343.0 / W, 20.0 / H])
    cb = fig.colorbar(ScalarMappable(norm=norm, cmap=cmap), cax=cax, orientation="horizontal",
                      spacing="proportional", ticks=CBAR_TICKS)
    cb.outline.set_linewidth(2.1)
    cb.outline.set_edgecolor(INK)
    cb.ax.tick_params(length=8.5, width=0.9, labelsize=20, pad=9, color=INK, labelcolor=INK)
    cb.ax.minorticks_off()
    fig.text(880 / W, 1 - 1153 / H, "dVs (%)", fontsize=20.3, color=INK, ha="left", va="center")

    fig.savefig("out.png", dpi=100)
    plt.close(fig)


if __name__ == "__main__":
    main()
